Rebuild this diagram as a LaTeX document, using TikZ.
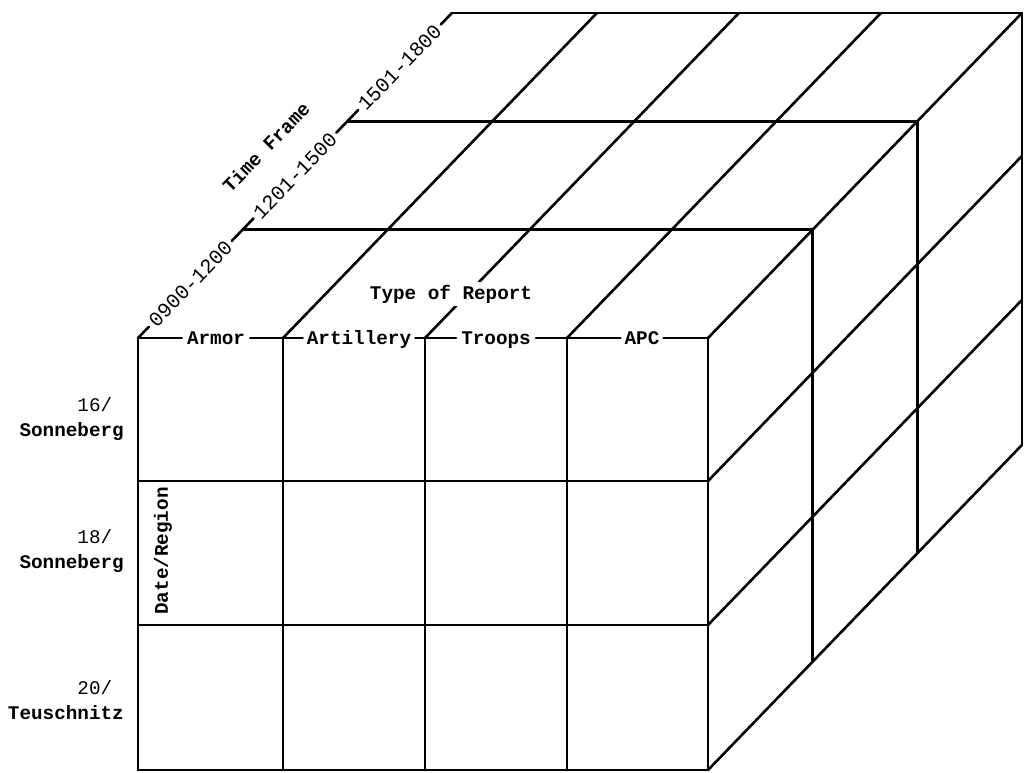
\documentclass[tikz,border=0pt]{standalone}
\usepackage{fontspec}
\newfontfamily\tw{Liberation Mono}
\usetikzlibrary{calc}
\begin{document}
\begin{tikzpicture}[x=1pt,y=-1pt,
  edge/.style={line width=2.6pt, line cap=round, line join=round},
  lab/.style={font=\tw\bfseries\fontsize{19.3}{25}\selectfont, inner sep=0pt},
  elab/.style={lab, text height=13pt, text depth=0pt},
  tlab/.style={font=\tw\fontsize{20.5}{25}\selectfont, inner sep=0pt, rotate=46, text height=14pt, text depth=0pt},
  rowlab/.style={font=\tw\bfseries\fontsize{19.3}{25}\selectfont, inner sep=0pt, anchor=east, align=right}]
\useasboundingbox (0,0) rectangle (1024,772);
% grid points: p<col><row><layer>
\foreach \i/\x in {0/138,1/283,2/425,3/567,4/708}{
  \foreach \j/\y in {0/338,1/481,2/625,3/770}{
    \foreach \k in {0,1,2,3}{
      \pgfmathsetmacro\xx{\x+\k*104.6}
      \pgfmathsetmacro\yy{\y-\k*108.3}
      \coordinate (p\i\j\k) at (\xx,\yy);
    }
  }
}
% front face
\foreach \i in {0,...,4} \draw[edge] (p\i00) -- (p\i30);
\foreach \j in {1,2,3} \draw[edge] (p0\j0) -- (p4\j0);
% top face
\foreach \i in {1,...,4} \draw[edge] (p\i00) -- (p\i03);
\foreach \k in {1,2,3} \draw[edge] (p00\k) -- (p40\k);
% right face
\foreach \k in {1,2,3} \draw[edge] (p40\k) -- (p43\k);
\foreach \j in {1,2,3} \draw[edge] (p4\j0) -- (p4\j3);
% type of report labels on front top edge
\node[elab, inner xsep=5pt] (armor) at (216,338) {Armor};
\node[elab, inner xsep=4pt] (artillery) at (359,338) {Artillery};
\node[elab, inner xsep=5pt] (troops) at (496,338) {Troops};
\node[elab, inner xsep=4pt] (apc) at (642,338) {APC};
\draw[edge] (p000) -- (armor.west) (armor.east) -- (p100) -- (artillery.west)
  (artillery.east) -- (p200) -- (troops.west) (troops.east) -- (p300) -- (apc.west)
  (apc.east) -- (p400);
% time frame labels on left top edge
\node[tlab, inner xsep=4pt] (t1) at ($(p000)!0.1667!(p003)$) {0900-1200};
\node[tlab, inner xsep=4pt] (t2) at ($(p000)!0.5!(p003)$) {1201-1500};
\node[tlab, inner xsep=4pt] (t3) at ($(p000)!0.8333!(p003)$) {1501-1800};
\draw[edge] (p000) -- (t1.west) (t1.east) -- (t2.west) (t2.east) -- (t3.west)
  (t3.east) -- (p003);
\node[lab, rotate=46] (tf) at (266,147) {Time Frame};
\node[lab, fill=white, inner sep=3pt] (tor) at (451,294) {Type of Report};
\node[lab, rotate=90] (dr) at (163,551) {Date/Region};
% row labels
\node[rowlab] (r1) at (124,419) {{\mdseries 16/\hphantom{0}}\\Sonneberg};
\node[rowlab] (r2) at (124,551) {{\mdseries 18/\hphantom{0}}\\Sonneberg};
\node[rowlab] (r3) at (124,700) {{\mdseries 20/\hphantom{0}}\\Teuschnitz};
\end{tikzpicture}
\end{document}
